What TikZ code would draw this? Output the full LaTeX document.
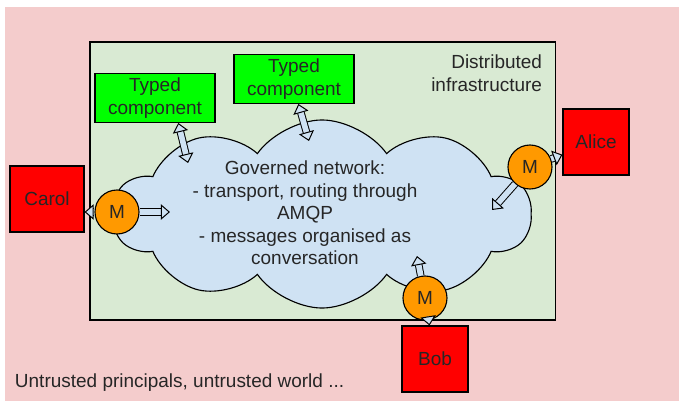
\documentclass[tikz,border=0pt]{standalone}
\usepackage{fontspec}
\setmainfont{Liberation Sans}
\usetikzlibrary{shapes.symbols, arrows.meta, positioning, calc}

\definecolor{worldpink}{HTML}{F4CCCC}
\definecolor{infragreen}{HTML}{D9EAD3}
\definecolor{netblue}{HTML}{CFE2F3}
\definecolor{compgreen}{HTML}{00FF00}
\definecolor{mgrorange}{HTML}{FF9900}

\begin{document}
\begin{tikzpicture}[
  x=0.025cm, y=-0.025cm,
  txt/.style={font=\fontsize{13.5}{16}\selectfont, text=black!85},
  comp/.style={rectangle, draw, line width=0.8pt, fill=compgreen, minimum width=3cm,
               minimum height=1.22cm, align=center, inner sep=0pt, txt},
  princ/.style={rectangle, draw, line width=0.8pt, fill=red, minimum size=1.65cm, txt},
  mgr/.style={circle, draw, line width=0.8pt, fill=mgrorange, minimum size=1.1cm,
              inner sep=0pt, txt},
  tip/.tip={Triangle[open, fill=netblue, width=11pt, length=6.5pt, line width=0.7pt]},
  pipe/.style={draw=black, double=netblue, double distance=4pt, line width=0.7pt,
               -tip},
  pipe2/.style={pipe, tip-tip},
]
\useasboundingbox (0,0) rectangle (679,401);

% --- untrusted world ---
\fill[worldpink] (5,7) rectangle (679,401);
\node[txt, anchor=west] (worldlabel) at (10,383) {Untrusted principals, untrusted world ...};

% --- distributed infrastructure ---
\node[draw, line width=0.8pt, fill=infragreen, minimum width=11.625cm,
      minimum height=6.95cm] (infra) at (322.5,181) {};
\node[txt, align=right, anchor=east] (infralabel) at (547,73) {Distributed\\infrastructure};

% --- governed network ---
\node[cloud, draw, line width=0.8pt, fill=netblue, cloud puffs=10, cloud puff arc=110,
      cloud ignores aspect, minimum width=10.45cm, minimum height=4.7cm,
      inner sep=0pt] (net) at (322,214) {};
\node[txt, align=center] (netlabel) at (305,213)
  {Governed network:\\- transport, routing through\\AMQP\\- messages organised as\\conversation};

% --- typed components ---
\node[comp] (tc1) at (155,98) {Typed\\component};
\node[comp] (tc2) at (294,79) {Typed\\component};

% --- principals and their M ---
\node[princ, minimum width=1.85cm] (carol) at (47,199) {Carol};
\node[princ] (alice) at (596,142) {Alice};
\node[princ] (bob) at (435,359) {Bob};

\node[mgr] (mc) at (117,212) {M};
\node[mgr] (ma) at (530,167) {M};
\node[mgr] (mb) at (425,298) {M};

\coordinate (tc1in) at (188,163);
\coordinate (tc2in) at (309,141);
\coordinate (mcin) at (170,212);
\coordinate (main) at (492,210);
\coordinate (mbin) at (417,256);

\draw[pipe2] (tc1.-47) -- (tc1in);
\draw[pipe2] (tc2.-80) -- (tc2in);
\draw[pipe] (mc.west) -- (mc.west -| carol.east);
\draw[pipe] (mc.east) -- (mcin);
\draw[pipe] (ma) -- (alice);
\draw[pipe] (ma) -- (main);
\draw[pipe] (mb) -- (mbin);
\draw[pipe] (mb) -- (bob);

\end{tikzpicture}
\end{document}
